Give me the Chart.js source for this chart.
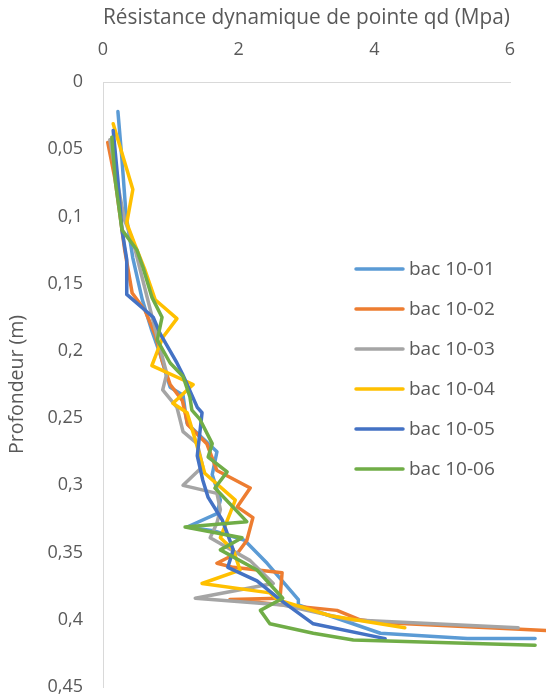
<!DOCTYPE html>
<html>
<head>
<meta charset="utf-8">
<script src="https://cdn.jsdelivr.net/npm/chart.js@4/dist/chart.umd.min.js"></script>
<style>
  html, body { margin: 0; padding: 0; background: #fff; }
  #wrap { width: 546px; height: 697px; }
</style>
</head>
<body>
<div id="wrap"><canvas id="chart" width="546" height="697"></canvas></div>
<script>
// ---------------- data (qd in MPa, depth in m) ----------------
const SERIES_LABELS = ['bac 10-01', 'bac 10-02', 'bac 10-03', 'bac 10-04', 'bac 10-05', 'bac 10-06'];
const SERIES_COLORS = ['#5B9BD5', '#ED7D31', '#A5A5A5', '#FFC000', '#4472C4', '#70AD47'];

const bac01_qd    = [0.22, 0.28, 0.34, 0.44, 0.58, 0.72, 0.84, 0.91, 0.99, 1.18, 1.21, 1.24, 1.68, 1.61, 1.73, 1.68, 1.24, 1.65, 2.09, 2.42, 2.88, 2.88, 4.09, 5.37, 6.37];
const bac01_depth = [0.022, 0.058, 0.099, 0.131, 0.162, 0.185, 0.202, 0.214, 0.227, 0.233, 0.244, 0.254, 0.275, 0.292, 0.311, 0.321, 0.331, 0.334, 0.341, 0.358, 0.385, 0.389, 0.410, 0.414, 0.414];

const bac02_qd    = [0.07, 0.18, 0.25, 0.32, 0.43, 0.62, 0.77, 0.87, 0.99, 1.17, 1.25, 1.53, 1.68, 1.87, 2.17, 1.98, 2.21, 2.12, 1.99, 1.68, 1.92, 2.64, 2.61, 1.87, 3.45, 3.79, 4.09, 6.53];
const bac02_depth = [0.045, 0.073, 0.099, 0.125, 0.157, 0.170, 0.188, 0.207, 0.225, 0.237, 0.255, 0.269, 0.289, 0.294, 0.302, 0.316, 0.324, 0.341, 0.350, 0.358, 0.361, 0.365, 0.384, 0.385, 0.393, 0.400, 0.402, 0.408];

const bac03_qd    = [0.10, 0.22, 0.32, 0.44, 0.55, 0.66, 0.81, 0.94, 0.88, 1.09, 1.18, 1.39, 1.47, 1.18, 1.68, 1.73, 1.68, 1.58, 2.17, 2.51, 1.36, 2.65, 3.64, 6.12];
const bac03_depth = [0.043, 0.077, 0.103, 0.118, 0.140, 0.162, 0.192, 0.217, 0.229, 0.242, 0.260, 0.269, 0.286, 0.300, 0.306, 0.318, 0.328, 0.339, 0.356, 0.373, 0.384, 0.389, 0.400, 0.406];

const bac04_qd    = [0.15, 0.44, 0.35, 0.47, 0.62, 0.77, 1.09, 0.88, 0.72, 1.33, 1.03, 1.24, 1.36, 1.50, 1.95, 1.73, 1.92, 2.02, 1.46, 2.46, 2.57, 3.35, 4.45];
const bac04_depth = [0.031, 0.080, 0.105, 0.121, 0.140, 0.162, 0.176, 0.190, 0.211, 0.225, 0.239, 0.246, 0.266, 0.291, 0.311, 0.339, 0.348, 0.363, 0.373, 0.380, 0.385, 0.397, 0.406];

const bac05_qd    = [0.15, 0.22, 0.28, 0.35, 0.35, 0.74, 0.84, 1.09, 1.17, 1.39, 1.46, 1.39, 1.47, 1.55, 1.76, 1.87, 1.92, 1.84, 2.27, 2.61, 3.10, 4.16];
const bac05_depth = [0.036, 0.073, 0.110, 0.132, 0.158, 0.175, 0.187, 0.209, 0.217, 0.242, 0.246, 0.278, 0.296, 0.309, 0.326, 0.341, 0.348, 0.361, 0.371, 0.385, 0.403, 0.414];

const bac06_qd    = [0.13, 0.18, 0.25, 0.28, 0.50, 0.59, 0.72, 0.87, 0.80, 0.99, 1.18, 1.28, 1.31, 1.43, 1.61, 1.55, 1.83, 1.65, 2.12, 1.21, 2.05, 1.73, 2.27, 2.65, 2.32, 2.46, 3.10, 3.69, 6.37];
const bac06_depth = [0.041, 0.073, 0.099, 0.110, 0.125, 0.138, 0.160, 0.175, 0.192, 0.209, 0.219, 0.234, 0.244, 0.251, 0.269, 0.279, 0.290, 0.302, 0.327, 0.331, 0.339, 0.348, 0.363, 0.384, 0.393, 0.403, 0.410, 0.415, 0.419];

const X_TICKS = [0, 2, 4, 6];
const Y_TICK_STEP = 0.05;
// --------------------------------------------------------------

const QD    = [bac01_qd, bac02_qd, bac03_qd, bac04_qd, bac05_qd, bac06_qd];
const DEPTH = [bac01_depth, bac02_depth, bac03_depth, bac04_depth, bac05_depth, bac06_depth];

const FONT = "'Open Sans', 'Liberation Sans', sans-serif";
const TEXT = '#595959';

const datasets = SERIES_LABELS.map((label, i) => ({
  label,
  data: QD[i].map((x, k) => ({ x, y: DEPTH[i][k] })),
  borderColor: SERIES_COLORS[i],
  backgroundColor: SERIES_COLORS[i],
  borderWidth: 3.5,
  pointRadius: 0,
  showLine: true,
  tension: 0,
  clip: false,
  borderJoinStyle: 'round',
  borderCapStyle: 'round',
  order: SERIES_LABELS.length - i,   // last series drawn on top, like Excel
}));

// legend drawn inside the plot area
const legendInside = {
  id: 'legendInside',
  afterDraw(chart) {
    const ctx = chart.ctx;
    ctx.save();
    ctx.font = '19px ' + FONT;
    ctx.textBaseline = 'middle';
    SERIES_LABELS.forEach((label, i) => {
      const y = 269 + i * 40;
      ctx.strokeStyle = SERIES_COLORS[i];
      ctx.lineWidth = 3.5;
      ctx.lineCap = 'round';
      ctx.beginPath();
      ctx.moveTo(356, y);
      ctx.lineTo(403, y);
      ctx.stroke();
      ctx.fillStyle = TEXT;
      ctx.fillText(label, 409, y + 1);
    });
    ctx.restore();
  },
};

new Chart(document.getElementById('chart'), {
  type: 'scatter',
  data: { datasets },
  plugins: [legendInside],
  options: {
    responsive: false,
    animation: false,
    layout: { padding: { left: 0, right: 36, top: 0, bottom: 10 } },
    plugins: { legend: { display: false }, tooltip: { enabled: false } },
    scales: {
      x: {
        position: 'top',
        min: 0, max: 6,
        afterBuildTicks: s => { s.ticks = X_TICKS.map(v => ({ value: v })); },
        afterFit: s => { s.height = 82; s.paddingLeft = 0; s.paddingRight = 0; },
        grid: { display: false, drawTicks: false },
        border: { display: true, color: '#D9D9D9', width: 1 },
        ticks: { color: TEXT, font: { family: FONT, size: 18 }, padding: 21 },
        title: {
          display: true,
          text: 'Résistance dynamique de pointe qd (Mpa)',
          color: TEXT,
          font: { family: FONT, size: 21 },
          padding: { top: 5, bottom: 4 },
        },
      },
      y: {
        reverse: true,
        min: 0, max: 0.45,
        afterFit: s => { s.width = 103; s.paddingTop = 0; s.paddingBottom = 0; },
        grid: { display: false, drawTicks: false },
        border: { display: true, color: '#D9D9D9', width: 1 },
        ticks: {
          stepSize: Y_TICK_STEP,
          color: TEXT,
          font: { family: FONT, size: 18 },
          padding: 20,
          callback: v => String(Math.round(v * 100) / 100).replace('.', ','),
        },
        title: {
          display: true,
          text: 'Profondeur (m)',
          color: TEXT,
          font: { family: FONT, size: 19.5 },
          padding: { top: 6, bottom: 4 },
        },
      },
    },
  },
});
</script>
</body>
</html>
